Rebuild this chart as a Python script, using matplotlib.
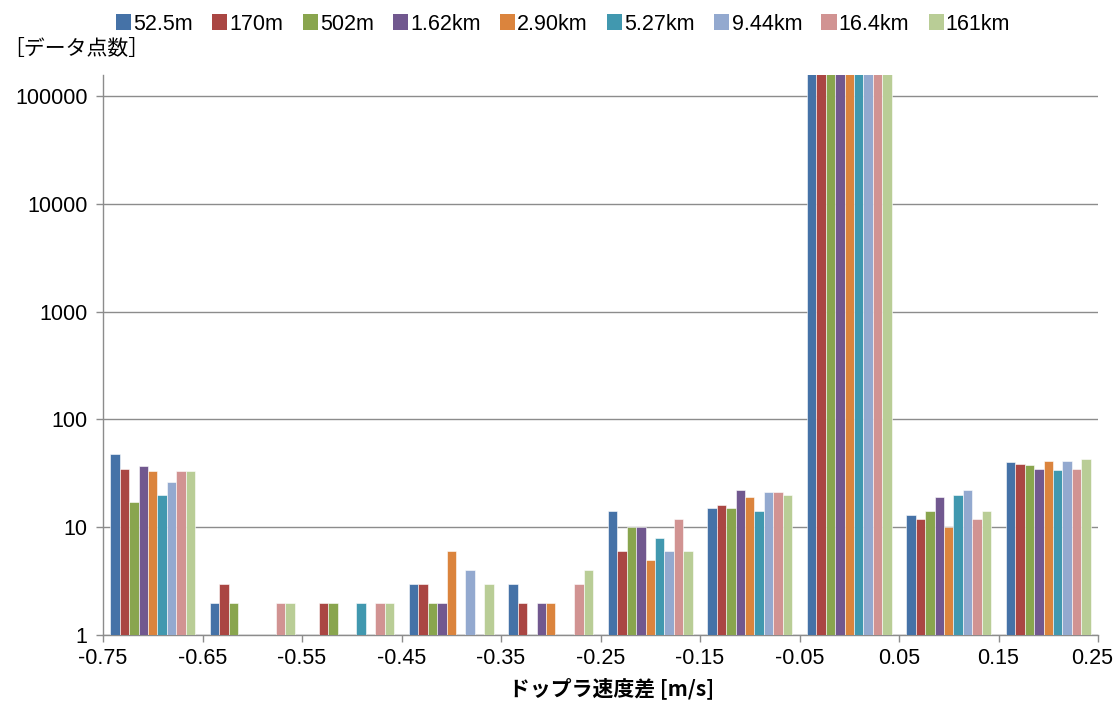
import matplotlib
matplotlib.use("Agg")
import matplotlib.pyplot as plt
import matplotlib.transforms as mtransforms
import numpy as np
from matplotlib.patches import Patch

# ---- data ----
bin_edges = [-0.75, -0.65, -0.55, -0.45, -0.35, -0.25, -0.15, -0.05, 0.05, 0.15, 0.25]
x_tick_labels = ["-0.75", "-0.65", "-0.55", "-0.45", "-0.35", "-0.25", "-0.15", "-0.05", "0.05", "0.15", "0.25"]
series_names = ["52.5m", "170m", "502m", "1.62km", "2.90km", "5.27km", "9.44km", "16.4km", "161km"]
# counts per bin (rows = series, columns = bins); 0 = no data point
s_525m  = [48, 2, 0, 3, 3, 14, 15, 200000, 13, 40]
s_170m  = [35, 3, 2, 3, 2, 6, 16, 200000, 12, 39]
s_502m  = [17, 2, 2, 2, 0, 10, 15, 200000, 14, 38]
s_162km = [37, 0, 0, 2, 2, 10, 22, 200000, 19, 35]
s_290km = [33, 0, 0, 6, 2, 5, 19, 200000, 10, 41]
s_527km = [20, 0, 2, 0, 0, 8, 14, 200000, 20, 34]
s_944km = [26, 0, 0, 4, 0, 6, 21, 200000, 22, 41]
s_164km = [33, 2, 2, 0, 3, 12, 21, 200000, 12, 35]
s_161km = [33, 2, 2, 3, 4, 6, 20, 200000, 14, 43]
series_values = [s_525m, s_170m, s_502m, s_162km, s_290km, s_527km, s_944km, s_164km, s_161km]
y_ticks = [1, 10, 100, 1000, 10000, 100000]
y_tick_labels = ["1", "10", "100", "1000", "10000", "100000"]

colors = ["#4572A7", "#AA4643", "#89A54E", "#71588F", "#DB843D",
          "#4198AF", "#93A9CF", "#D19392", "#B9CD96"]

plt.rcParams['font.family'] = ['Liberation Sans', 'Noto Sans CJK JP', 'DejaVu Sans']

fig = plt.figure(figsize=(11.16, 7.02), dpi=100)
ax = fig.add_axes([103/1116, 1 - 635/702, (1098-103)/1116, (635-75)/702])

centers = [(a + b) / 2 for a, b in zip(bin_edges[:-1], bin_edges[1:])]
bw = 0.0095
n = len(series_values)
for i, (vals, c) in enumerate(zip(series_values, colors)):
    xs = [cx + (i - (n - 1) / 2) * bw for cx, v in zip(centers, vals) if v > 0]
    hs = [v for v in vals if v > 0]
    ax.bar(xs, hs, width=bw, color=c, edgecolor="white", linewidth=0.4, zorder=3)

ax.set_yscale("log")
ax.set_ylim(1, 1.57e5)
ax.set_xlim(bin_edges[0], bin_edges[-1])
ax.set_yticks(y_ticks)
ax.set_yticklabels(y_tick_labels)
ax.yaxis.set_minor_locator(matplotlib.ticker.NullLocator())
ax.set_xticks(bin_edges)
ax.set_xticklabels(x_tick_labels)

ax.grid(axis="y", color="#8c8c8c", linewidth=1.0, zorder=0)
for s in ["top", "right"]:
    ax.spines[s].set_visible(False)
for s in ["left", "bottom"]:
    ax.spines[s].set_color("#8c8c8c")
    ax.spines[s].set_linewidth(1.0)
ax.tick_params(axis="both", colors="#8c8c8c", labelcolor="black", labelsize=15.5,
               length=5, width=1.0, direction="out")
ax.tick_params(axis="y", pad=6)
ax.tick_params(axis="x", pad=4)

# keep the last x tick label inside the figure
last = ax.get_xticklabels()[-1]
last.set_transform(last.get_transform() +
                   mtransforms.ScaledTranslation(-6/100, 0, fig.dpi_scale_trans))

ax.set_xlabel("ドップラ速度差 [m/s]", fontsize=15, fontweight="bold",
              family=["Noto Sans CJK JP", "DejaVu Sans"])
ax.xaxis.set_label_coords(0.511, -0.075)
fig.text(3/1116, 1 - 49/702, "［データ点数］", fontsize=15,
         family=["Noto Sans CJK JP", "DejaVu Sans"], va="center", ha="left")

handles = [Patch(facecolor=c, edgecolor="none") for c in colors]
fig.legend(handles, series_names, loc="center", bbox_to_anchor=(563/1116, 1 - 24/702),
           ncol=9, frameon=False, fontsize=15.5, handlelength=0.7, handleheight=0.7,
           handletextpad=0.1, columnspacing=0.9, borderaxespad=0)

fig.savefig("out.png", dpi=100)
